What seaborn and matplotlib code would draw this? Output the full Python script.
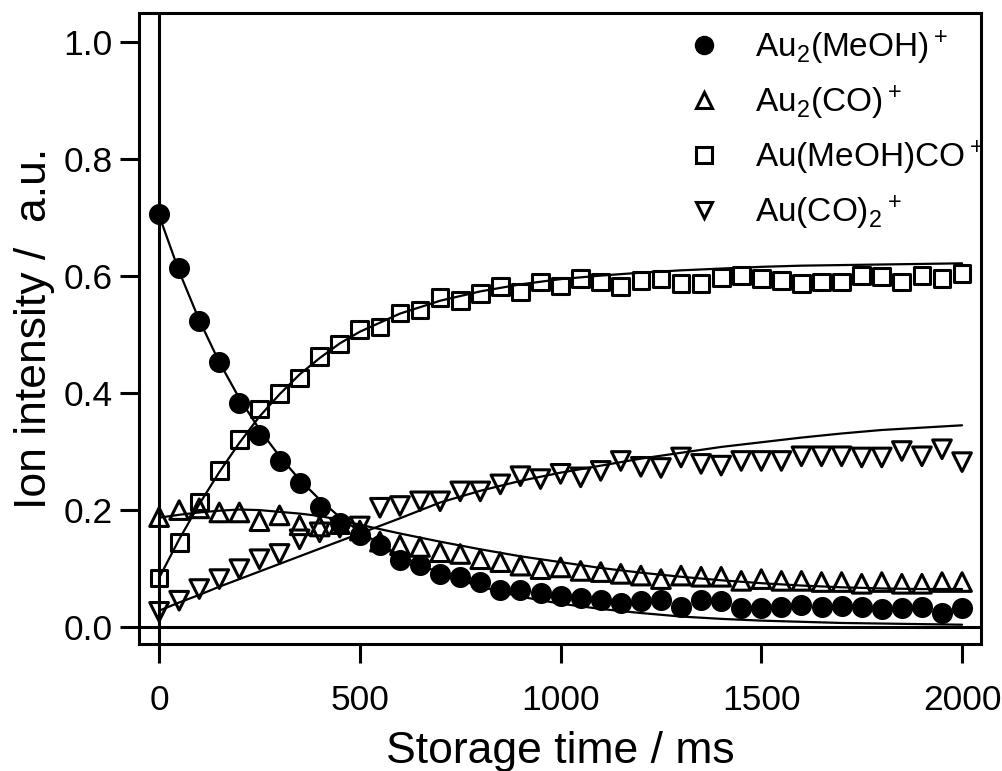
#Storage-time kinetics of Au cluster ions: measured points plus fitted curves
import numpy as np
import pandas as pd
import seaborn as sns
from matplotlib import pyplot as plt
from matplotlib.lines import Line2D

#storage times of the measured points (ms)
time_ms = np.arange(0, 2001, 50)

au2_meoh = [0.706, 0.614, 0.523, 0.453, 0.383, 0.328, 0.284, 0.246, 0.205, 0.178,
            0.157, 0.141, 0.115, 0.106, 0.091, 0.086, 0.077, 0.063, 0.063, 0.058,
            0.053, 0.050, 0.046, 0.041, 0.044, 0.047, 0.035, 0.046, 0.044, 0.032,
            0.033, 0.035, 0.037, 0.035, 0.036, 0.034, 0.031, 0.032, 0.034, 0.024,
            0.032]
au2_co = [0.188, 0.200, 0.203, 0.196, 0.196, 0.181, 0.191, 0.174, 0.172, 0.176,
          0.165, 0.146, 0.140, 0.137, 0.128, 0.125, 0.116, 0.111, 0.105, 0.099,
          0.102, 0.096, 0.094, 0.091, 0.088, 0.082, 0.088, 0.086, 0.086, 0.079,
          0.082, 0.079, 0.079, 0.077, 0.077, 0.074, 0.077, 0.074, 0.074, 0.077,
          0.077]
au_meoh_co = [0.084, 0.144, 0.214, 0.268, 0.321, 0.373, 0.400, 0.426, 0.463, 0.484,
              0.509, 0.513, 0.537, 0.542, 0.564, 0.559, 0.571, 0.582, 0.573, 0.590,
              0.583, 0.596, 0.590, 0.582, 0.593, 0.595, 0.588, 0.588, 0.598, 0.601,
              0.596, 0.593, 0.588, 0.590, 0.590, 0.601, 0.600, 0.590, 0.601, 0.596,
              0.605]
au_co2 = [0.026, 0.045, 0.065, 0.082, 0.099, 0.116, 0.125, 0.150, 0.162, 0.170,
          0.172, 0.204, 0.207, 0.215, 0.215, 0.232, 0.232, 0.244, 0.258, 0.253,
          0.262, 0.256, 0.267, 0.284, 0.274, 0.272, 0.290, 0.279, 0.276, 0.284,
          0.284, 0.284, 0.292, 0.292, 0.292, 0.290, 0.290, 0.301, 0.292, 0.304,
          0.282]

#fitted curves at these times
fit_time = [0, 50, 100, 150, 200, 250, 300, 350, 400, 450, 500, 600, 700, 800, 900,
            1000, 1100, 1200, 1300, 1400, 1500, 1600, 1700, 1800, 1900, 2000]
fit_au2_meoh = [0.704, 0.608, 0.525, 0.453, 0.391, 0.338, 0.292, 0.252, 0.218, 0.188,
                0.163, 0.122, 0.092, 0.069, 0.052, 0.040, 0.031, 0.024, 0.018, 0.014,
                0.011, 0.009, 0.007, 0.006, 0.005, 0.004]
fit_au2_co = [0.187, 0.192, 0.196, 0.199, 0.201, 0.200, 0.197, 0.194, 0.190, 0.183,
              0.175, 0.160, 0.146, 0.133, 0.121, 0.111, 0.101, 0.093, 0.086, 0.080,
              0.075, 0.071, 0.068, 0.066, 0.065, 0.065]
fit_au_meoh_co = [0.084, 0.150, 0.210, 0.265, 0.315, 0.360, 0.398, 0.432, 0.460, 0.485,
                  0.505, 0.536, 0.558, 0.574, 0.586, 0.595, 0.601, 0.606, 0.610, 0.613,
                  0.616, 0.618, 0.619, 0.620, 0.621, 0.622]
fit_au_co2 = [0.028, 0.042, 0.055, 0.069, 0.082, 0.095, 0.108, 0.121, 0.134, 0.147,
              0.160, 0.186, 0.213, 0.233, 0.250, 0.264, 0.276, 0.288, 0.298, 0.308,
              0.316, 0.324, 0.331, 0.337, 0.341, 0.345]

labels = [r'Au$_2$(MeOH)$^+$', r'Au$_2$(CO)$^+$', r'Au(MeOH)CO$^+$', r'Au(CO)$_2$$^+$']
markers = ['o', '^', 's', 'v']

sns.set_style('ticks')
plt.rcParams['font.family'] = ['Liberation Sans', 'DejaVu Sans']
plt.rcParams['mathtext.default'] = 'regular'
plt.rcParams['text.color'] = 'black'
plt.rcParams['axes.labelcolor'] = 'black'
plt.rcParams['xtick.color'] = 'black'
plt.rcParams['ytick.color'] = 'black'
plt.rcParams['axes.edgecolor'] = 'black'

fig = plt.figure(figsize=(10.03, 7.71), dpi=100)
ax = fig.add_axes([0.1386, 0.1647, 0.8394, 0.8184])

#fit lines first, markers on top
for fit in [fit_au2_meoh, fit_au2_co, fit_au_meoh_co, fit_au_co2]:
    sns.lineplot(x=fit_time, y=fit, color='black', linewidth=1.6, ax=ax)

#filled circles
sns.scatterplot(x=time_ms, y=au2_meoh, marker='o', s=230, color='black',
                linewidth=0, ax=ax, zorder=3)
#open markers
for vals, m, size in [(au2_co, '^', 180), (au_meoh_co, 's', 145), (au_co2, 'v', 180)]:
    sns.scatterplot(x=time_ms, y=vals, marker=m, s=size, facecolors='none',
                    edgecolor='black', linewidth=2.2, ax=ax, zorder=3)

#zero lines
ax.axhline(0, color='black', linewidth=2.2, zorder=1)
ax.axvline(0, color='black', linewidth=2.2, zorder=1)

ax.set_xlim(-50, 2047)
ax.set_ylim(-0.029, 1.05)
ax.set_xticks([0, 500, 1000, 1500, 2000])
ax.set_yticks([0.0, 0.2, 0.4, 0.6, 0.8, 1.0])
ax.set_yticklabels(['0.0', '0.2', '0.4', '0.6', '0.8', '1.0'])
ax.tick_params(axis='both', direction='out', length=14, width=2.2, labelsize=25.5)
ax.tick_params(axis='x', pad=15)
ax.tick_params(axis='y', pad=5)
for sp in ax.spines.values():
    sp.set_linewidth(2.2)

ax.set_xlabel('Storage time / ms', fontsize=32, labelpad=10)
ax.set_ylabel('Ion intensity /  a.u.', fontsize=32, labelpad=6)

#legend with marker-only handles
handles = []
for m in markers:
    if m == 'o':
        h = Line2D([], [], linestyle='none', marker='o', markersize=13,
                   markerfacecolor='black', markeredgecolor='black')
    else:
        h = Line2D([], [], linestyle='none', marker=m, markersize=11.5,
                   markerfacecolor='none', markeredgecolor='black', markeredgewidth=2.2)
    handles.append(h)
ax.legend(handles, labels, loc='upper left', bbox_to_anchor=(0.685, 0.963),
          bbox_transform=fig.transFigure, frameon=False, fontsize=24,
          handlelength=1.0, handletextpad=1.05, labelspacing=0.5,
          borderpad=0, borderaxespad=0)

fig.savefig('out.png', dpi=100)
